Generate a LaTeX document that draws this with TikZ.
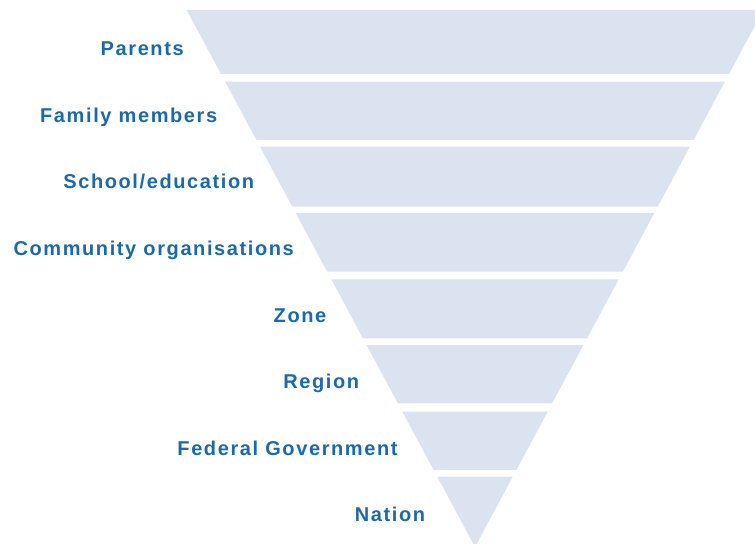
\documentclass[tikz,border=0pt]{standalone}
\usepackage{fontspec}
\setmainfont{Liberation Sans}
\newfontfamily\lblfont[LetterSpace=8]{Liberation Sans Bold}
\definecolor{lblblue}{RGB}{24,106,176}
\definecolor{bandfill}{RGB}{220,227,240}
\begin{document}
\begin{tikzpicture}[x=1bp,y=-1bp,
  lbl/.style={font=\lblfont\fontsize{20bp}{22bp}\selectfont, text=lblblue, anchor=base, inner sep=0pt},
  band/.style={fill=bandfill}]
\useasboundingbox (0,0) rectangle (755,544);
\clip (0,0) rectangle (755,544);
\foreach \t/\b in {10/74, 81.7/140, 146.7/206.7, 213/271.7, 279.3/338.3, 345/403.3, 411.7/470, 476.7/547}{
  \fill[band] ({475-0.537*(547-\t)},\t) -- ({475+0.537*(547-\t)},\t) -- ({475+0.537*(547-\b)},\b) -- ({475-0.537*(547-\b)},\b) -- cycle;
}
\node[lbl] (parents)   at (142.2,56)   {Parents};
\node[lbl] (family)    at (128.7,122.5) {Family members};
\node[lbl] (school)    at (158.7,189)  {School/education};
\node[lbl] (community) at (153.7,255.5) {Community organisations};
\node[lbl] (zone)      at (300,322)    {Zone};
\node[lbl] (region)    at (321.3,388.5) {Region};
\node[lbl] (federal)   at (287.5,455)  {Federal Government};
\node[lbl] (nation)    at (390,521.5)  {Nation};
\end{tikzpicture}
\end{document}
